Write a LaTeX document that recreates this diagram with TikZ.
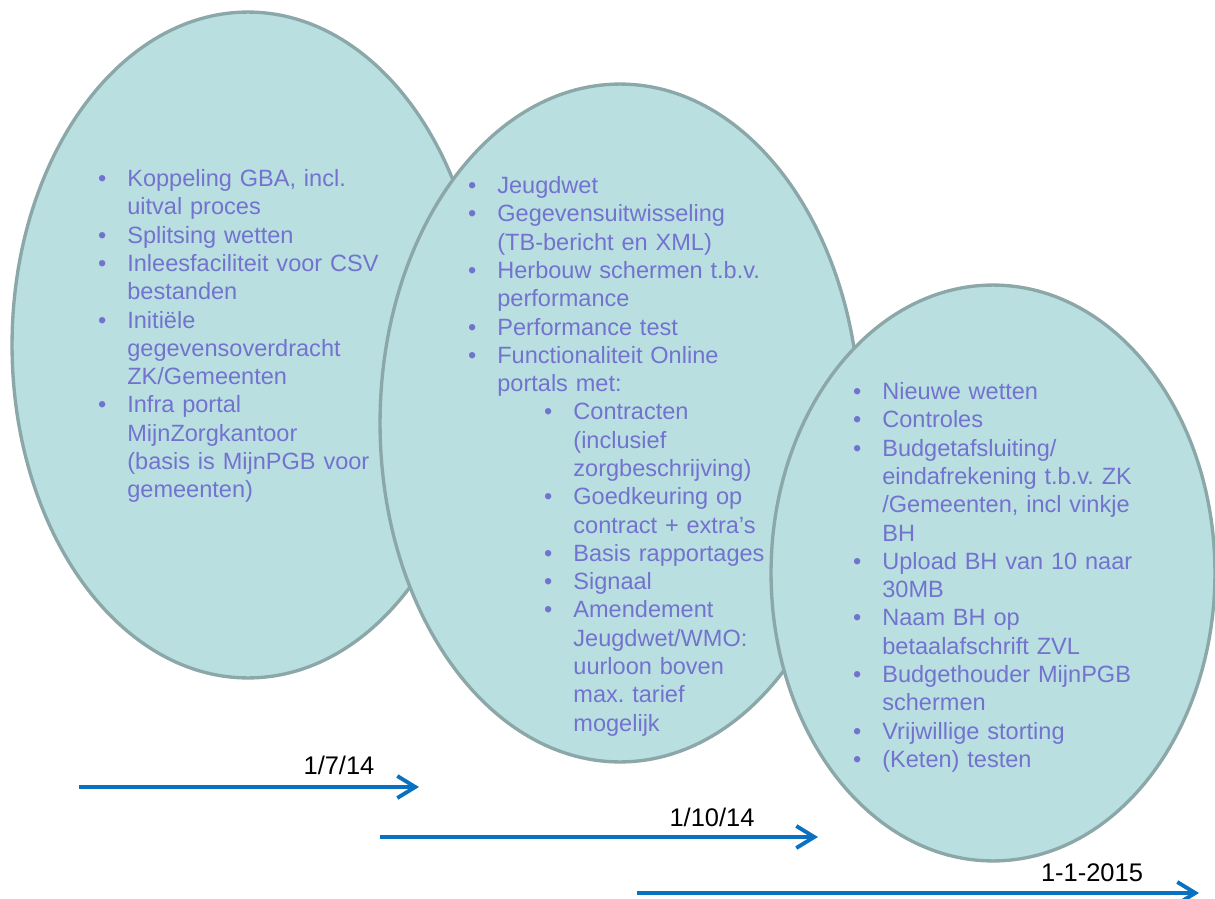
\documentclass[tikz,border=0pt]{standalone}
\usepackage{fontspec}
\setmainfont{Liberation Sans}
\usepackage{enumitem}
\usepackage{tikz}
\usetikzlibrary{positioning}
\usetikzlibrary{shapes.geometric}
\usetikzlibrary{arrows.meta}

\definecolor{phasefill}{HTML}{B9DFE1}
\definecolor{phaseline}{HTML}{8BA7A8}
\definecolor{itemtext}{HTML}{7373CF}
\definecolor{timeline}{HTML}{0A70C0}

\setlist[itemize]{label=\textbullet, leftmargin=14.8pt, labelsep=12pt, itemsep=0pt, parsep=0pt, topsep=0pt, partopsep=0pt}
\setlist[itemize,2]{leftmargin=43.3pt}
\frenchspacing

\begin{document}
\begin{tikzpicture}[x=0.02cm, y=-0.02cm,
	phase/.style={ellipse, draw=phaseline, fill=phasefill, line width=1.9pt, inner sep=0pt},
	items/.style={anchor=north west, inner sep=0pt, text=itemtext, align=left, text width=#1, font=\fontsize{13.4}{16.1}\selectfont},
	datelabel/.style={inner sep=0pt, font=\fontsize{14.5}{17}\selectfont},
	timearrow/.style={draw=timeline, line width=2.2pt, -{Straight Barb[length=3.6mm, width=4.4mm]}}]
	\useasboundingbox (0,0) rectangle (1215,899);
	
	% the three phases
	\node [phase, minimum width=9.44cm, minimum height=13.32cm] (ph1) at (248,345) {};
	\node [phase, minimum width=9.6cm, minimum height=13.56cm] (ph2) at (620,423) {};
	\node [phase, minimum width=8.88cm, minimum height=11.52cm] (ph3) at (993,573) {};
	
	\node [items=6cm] (it1) at (101,158) {%
		\begin{itemize}
			\item Koppeling GBA, incl.\\uitval proces
			\item Splitsing wetten
			\item Inleesfaciliteit voor CSV\\bestanden
			\item Initiële\\gegevensoverdracht\\ZK/Gemeenten
			\item Infra portal\\MijnZorgkantoor\\(basis is MijnPGB voor\\gemeenten)
		\end{itemize}};
	\node [items=6.5cm] (it2) at (471,165) {%
		\begin{itemize}
			\item Jeugdwet
			\item Gegevensuitwisseling\\(TB-bericht en XML)
			\item Herbouw schermen t.b.v.\\performance
			\item Performance test
			\item Functionaliteit Online\\portals met:
			\begin{itemize}
				\item Contracten\\(inclusief\\zorgbeschrijving)
				\item Goedkeuring op\\contract + extra’s
				\item Basis rapportages
				\item Signaal
				\item Amendement\\Jeugdwet/WMO:\\uurloon boven\\max. tarief\\mogelijk
			\end{itemize}
		\end{itemize}};
	\node [items=6.5cm] (it3) at (856,371) {%
		\begin{itemize}
			\item Nieuwe wetten
			\item Controles
			\item Budgetafsluiting/\\eindafrekening t.b.v. ZK\\/Gemeenten, incl vinkje\\BH
			\item Upload BH van 10 naar\\30MB
			\item Naam BH op\\betaalafschrift ZVL
			\item Budgethouder MijnPGB\\schermen
			\item Vrijwillige storting
			\item (Keten) testen
		\end{itemize}};
	
	% time line
	\coordinate (a1s) at (79,787); \coordinate (a1e) at (419,787);
	\coordinate (a2s) at (380,837); \coordinate (a2e) at (818,837);
	\coordinate (a3s) at (637,893); \coordinate (a3e) at (1199,893);
	\draw [timearrow] (a1s) -- (a1e);
	\draw [timearrow] (a2s) -- (a2e);
	\draw [timearrow] (a3s) -- (a3e);
	\node [datelabel] (d1) at (339,765) {1/7/14};
	\node [datelabel] (d2) at (712,817) {1/10/14};
	\node [datelabel] (d3) at (1092,873) {1-1-2015};
\end{tikzpicture}
\end{document}
